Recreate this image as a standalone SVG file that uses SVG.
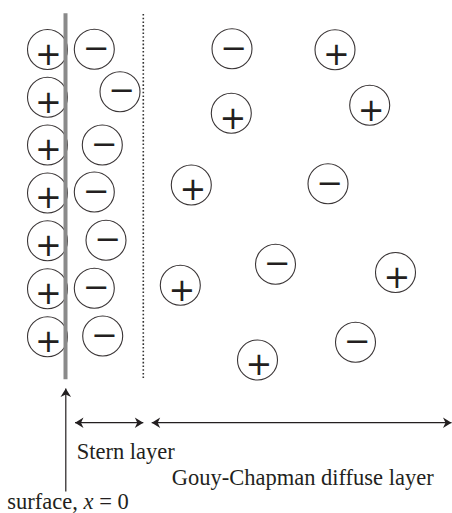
<svg xmlns="http://www.w3.org/2000/svg" width="452" height="513" viewBox="0 0 452 513">
  <style>
    .ion { fill: #ffffff; stroke: #3a3536; stroke-width: 1.1; }
    .sign { font-family: "DejaVu Sans", sans-serif; font-size: 32px; fill: #231f20; text-anchor: middle; }
    .label { font-family: "Liberation Serif", "Times New Roman", serif; font-size: 22.5px; fill: #231f20; }
    .shaft { stroke: #231f20; stroke-width: 1.2; fill: none; }
  </style>
  <defs>
    <marker id="head" markerUnits="userSpaceOnUse" markerWidth="12" markerHeight="12" viewBox="-10 -6 12 12" refX="0" refY="0" orient="auto-start-reverse">
      <path d="M0,0 L-8.5,-5.3 L-6,0 L-8.5,5.3 Z" fill="#231f20"/>
    </marker>
  </defs>

  <rect width="452" height="513" fill="#ffffff"/>

  <!-- adsorbed cations on the surface -->
  <g id="surface-cations">
    <g id="c1"><circle class="ion" cx="47.5" cy="49.5" r="20"/><text class="sign" x="48.5" y="64.8">+</text></g>
    <g id="c2"><circle class="ion" cx="47.5" cy="97.3" r="20"/><text class="sign" x="48.5" y="112.6">+</text></g>
    <g id="c3"><circle class="ion" cx="47.5" cy="145" r="20"/><text class="sign" x="48.5" y="160.3">+</text></g>
    <g id="c4"><circle class="ion" cx="47.5" cy="193" r="20"/><text class="sign" x="48.5" y="208.3">+</text></g>
    <g id="c5"><circle class="ion" cx="47.5" cy="240.7" r="20"/><text class="sign" x="48.5" y="256">+</text></g>
    <g id="c6"><circle class="ion" cx="47.5" cy="288.7" r="20"/><text class="sign" x="48.5" y="304">+</text></g>
    <g id="c7"><circle class="ion" cx="47.5" cy="336.7" r="20"/><text class="sign" x="48.5" y="352">+</text></g>
  </g>

  <!-- counter-ions in the Stern layer -->
  <g id="stern-anions">
    <g id="s1"><circle class="ion" cx="94.3" cy="49.3" r="20"/><text class="sign" x="96.3" y="59.2">−</text></g>
    <g id="s2"><circle class="ion" cx="120" cy="91.7" r="20"/><text class="sign" x="122" y="100.9">−</text></g>
    <g id="s3"><circle class="ion" cx="102.3" cy="145" r="20"/><text class="sign" x="104.3" y="154.9">−</text></g>
    <g id="s4"><circle class="ion" cx="94.3" cy="192" r="20"/><text class="sign" x="96.3" y="201.9">−</text></g>
    <g id="s5"><circle class="ion" cx="106" cy="240.3" r="20"/><text class="sign" x="108" y="250.2">−</text></g>
    <g id="s6"><circle class="ion" cx="94.3" cy="288.3" r="20"/><text class="sign" x="96.3" y="298.2">−</text></g>
    <g id="s7"><circle class="ion" cx="102.7" cy="336" r="20"/><text class="sign" x="104.7" y="345.9">−</text></g>
  </g>

  <!-- ions in the diffuse layer -->
  <g id="diffuse-ions">
    <g id="d1"><circle class="ion" cx="232" cy="48.7" r="20"/><text class="sign" x="234" y="58.6">−</text></g>
    <g id="d2"><circle class="ion" cx="335" cy="49.7" r="20"/><text class="sign" x="336.5" y="65">+</text></g>
    <g id="d3"><circle class="ion" cx="231.3" cy="113.3" r="20"/><text class="sign" x="232.8" y="128.6">+</text></g>
    <g id="d4"><circle class="ion" cx="369.7" cy="105.3" r="20"/><text class="sign" x="371.2" y="120.6">+</text></g>
    <g id="d5"><circle class="ion" cx="191.3" cy="185" r="20"/><text class="sign" x="192.8" y="200.3">+</text></g>
    <g id="d6"><circle class="ion" cx="328" cy="183.7" r="20"/><text class="sign" x="330" y="193.6">−</text></g>
    <g id="d7"><circle class="ion" cx="275.5" cy="264.3" r="20"/><text class="sign" x="277.5" y="274.2">−</text></g>
    <g id="d8"><circle class="ion" cx="395.5" cy="272.5" r="20"/><text class="sign" x="397" y="287.8">+</text></g>
    <g id="d9"><circle class="ion" cx="180.3" cy="285.3" r="20"/><text class="sign" x="181.8" y="300.6">+</text></g>
    <g id="d10"><circle class="ion" cx="355.5" cy="342.3" r="20"/><text class="sign" x="357.5" y="352.2">−</text></g>
    <g id="d11"><circle class="ion" cx="257.5" cy="360" r="20"/><text class="sign" x="259" y="375.3">+</text></g>
  </g>

  <!-- charged surface and outer edge of the Stern layer -->
  <g id="boundaries">
    <line id="surface" x1="65.5" y1="13.3" x2="65.5" y2="379.3" stroke="#8a8a8a" stroke-width="4"/>
    <line id="stern-plane" x1="143.3" y1="14" x2="143.3" y2="378" stroke="#333333" stroke-width="1.6" stroke-dasharray="1.6 2.1"/>
  </g>

  <!-- connectors -->
  <g id="connectors">
    <line class="shaft" x1="65.8" y1="491.5" x2="65.8" y2="388.5" marker-end="url(#head)"/>
    <line class="shaft" x1="75" y1="422.7" x2="143.3" y2="422.7" marker-start="url(#head)" marker-end="url(#head)"/>
    <line class="shaft" x1="151.7" y1="422.7" x2="451.5" y2="422.7" marker-start="url(#head)" marker-end="url(#head)"/>
  </g>

  <!-- labels -->
  <g id="labels">
    <text class="label" x="76.7" y="459.3">Stern layer</text>
    <text class="label" x="171.7" y="485">Gouy-Chapman diffuse layer</text>
    <text class="label" x="7.3" y="508.5">surface, <tspan font-style="italic">x</tspan> = 0</text>
  </g>
</svg>
